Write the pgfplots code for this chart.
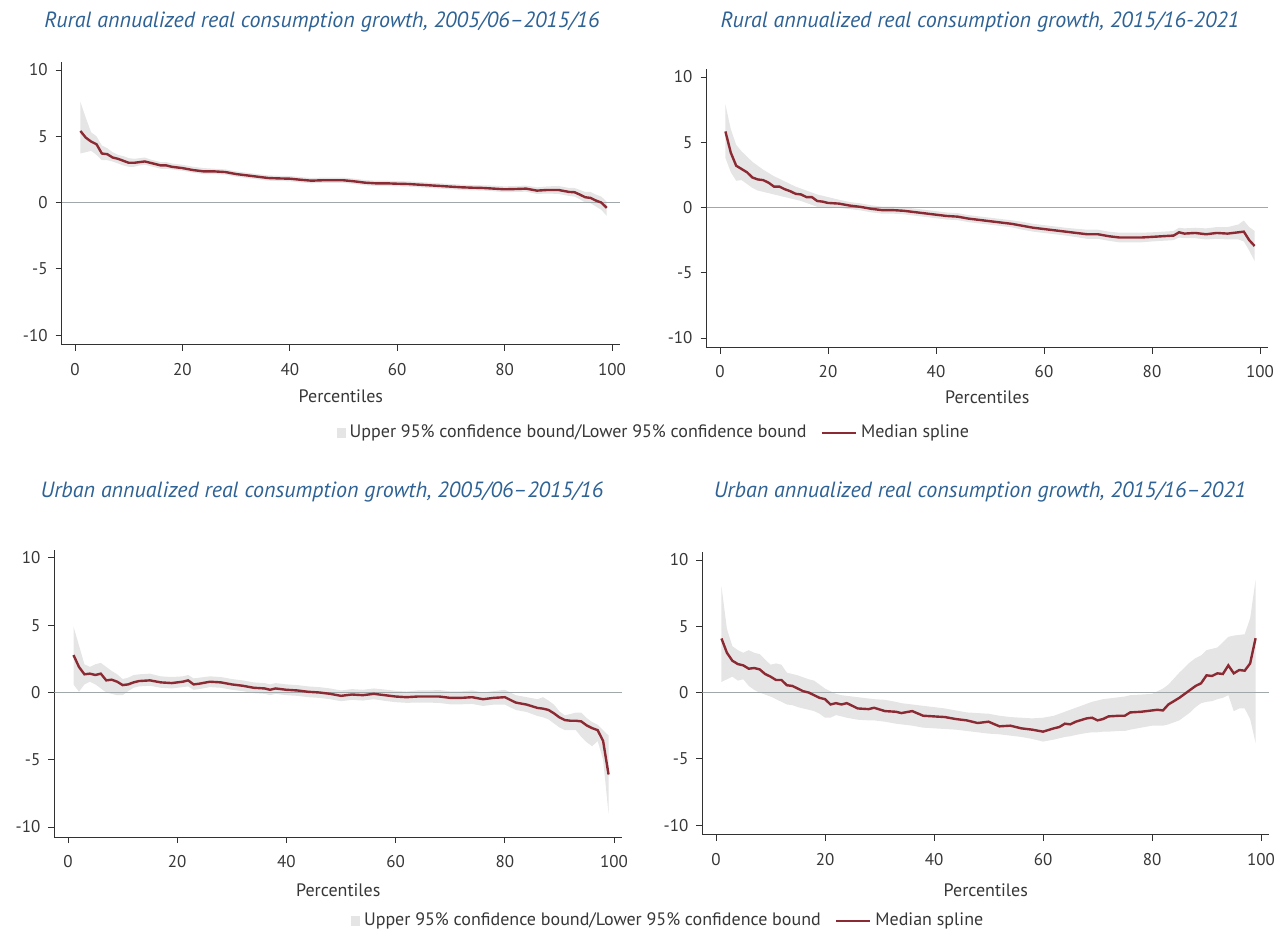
\documentclass[border=0pt]{standalone}
\usepackage{pgfplots}
\pgfplotsset{compat=1.18}
\usepackage{pgfplotstable}
\usepgfplotslibrary{fillbetween}
\usepackage{fontspec}
\setmainfont{PT Sans}
\definecolor{bandgray}{RGB}{229,229,229}
\definecolor{medred}{RGB}{140,42,52}
\definecolor{titleblue}{RGB}{46,98,148}
\definecolor{txtgray}{RGB}{55,55,55}
\definecolor{zerogray}{RGB}{160,168,170}
\definecolor{axgray}{RGB}{50,50,50}

\pgfplotstableread{
x med lo hi
1 5.4 3.7 7.6
2 4.9 3.8 6.4
3 4.6 3.9 5.3
4 4.4 3.6 5.0
5 3.7 3.2 4.3
6 3.65 3.2 4.1
7 3.4 3.1 3.8
8 3.3 2.95 3.6
9 3.15 2.8 3.5
10 3.0 2.7 3.35
11 3.0 2.7 3.3
12 3.05 2.8 3.35
13 3.1 2.85 3.4
14 3.0 2.75 3.25
15 2.9 2.65 3.15
16 2.8 2.55 3.05
17 2.8 2.55 3.05
18 2.7 2.5 2.95
20 2.6 2.4 2.85
22 2.45 2.25 2.7
24 2.35 2.15 2.6
26 2.35 2.15 2.55
28 2.3 2.1 2.5
30 2.15 1.95 2.35
32 2.05 1.85 2.25
34 1.95 1.75 2.15
36 1.85 1.65 2.05
38 1.82 1.62 2.02
40 1.8 1.6 2.0
42 1.72 1.52 1.92
44 1.65 1.45 1.85
46 1.68 1.48 1.88
48 1.68 1.48 1.88
50 1.68 1.48 1.88
52 1.6 1.4 1.8
54 1.5 1.3 1.7
56 1.45 1.25 1.65
58 1.45 1.25 1.65
60 1.42 1.22 1.62
62 1.4 1.2 1.6
64 1.35 1.15 1.55
66 1.3 1.1 1.5
68 1.25 1.05 1.45
70 1.2 1.0 1.4
72 1.15 0.95 1.35
74 1.12 0.92 1.32
76 1.1 0.9 1.3
78 1.05 0.85 1.28
80 1.0 0.78 1.22
82 1.02 0.8 1.25
84 1.05 0.82 1.28
86 0.9 0.65 1.15
88 0.95 0.68 1.22
90 0.95 0.65 1.25
92 0.8 0.5 1.1
93 0.78 0.45 1.1
94 0.6 0.25 0.95
95 0.4 0.0 0.8
96 0.35 -0.05 0.8
97 0.15 -0.3 0.6
98 0.0 -0.55 0.45
99 -0.4 -1.0 0.05
}\tabTL

\pgfplotstableread{
x med lo hi
1 5.83 3.8 7.9
2 4.2 2.7 6.0
3 3.2 2.05 4.8
4 2.95 2.1 4.3
5 2.7 1.8 3.9
6 2.3 1.5 3.5
7 2.15 1.3 3.2
8 2.1 1.2 2.9
9 1.9 1.1 2.65
10 1.6 1.0 2.4
11 1.6 0.9 2.2
12 1.4 0.8 2.0
13 1.25 0.7 1.8
14 1.05 0.6 1.6
15 1.0 0.5 1.45
16 0.8 0.35 1.3
17 0.8 0.2 1.15
18 0.5 0.05 1.0
19 0.45 0.0 0.9
20 0.35 -0.05 0.8
22 0.3 -0.02 0.6
24 0.15 -0.12 0.42
26 0.05 -0.22 0.32
28 -0.1 -0.37 0.17
30 -0.2 -0.47 0.07
32 -0.2 -0.47 0.07
34 -0.25 -0.52 0.02
36 -0.35 -0.62 -0.08
38 -0.45 -0.72 -0.18
40 -0.55 -0.82 -0.28
42 -0.65 -0.92 -0.38
44 -0.7 -0.97 -0.43
46 -0.85 -1.12 -0.58
48 -0.95 -1.22 -0.68
50 -1.05 -1.32 -0.78
52 -1.15 -1.42 -0.88
54 -1.25 -1.52 -0.98
56 -1.4 -1.7 -1.1
58 -1.55 -1.85 -1.25
60 -1.65 -1.95 -1.35
62 -1.75 -2.05 -1.45
64 -1.85 -2.15 -1.55
66 -1.95 -2.27 -1.63
68 -2.05 -2.4 -1.7
70 -2.05 -2.4 -1.7
72 -2.2 -2.55 -1.85
74 -2.3 -2.67 -1.93
76 -2.3 -2.67 -1.93
78 -2.3 -2.67 -1.93
80 -2.25 -2.6 -1.9
82 -2.2 -2.55 -1.85
84 -2.15 -2.5 -1.8
85 -1.9 -2.3 -1.55
86 -2.0 -2.35 -1.6
88 -1.95 -2.35 -1.55
90 -2.05 -2.45 -1.6
92 -1.95 -2.4 -1.5
94 -2.0 -2.45 -1.5
96 -1.9 -2.45 -1.3
97 -1.85 -2.6 -1.0
98 -2.5 -3.3 -1.5
99 -2.95 -4.1 -1.8
}\tabTR

\pgfplotstableread{
x med lo hi
1 2.78 0.6 4.9
2 1.9 0.05 3.5
3 1.35 0.6 2.1
4 1.4 0.8 1.9
5 1.3 0.6 2.1
6 1.4 0.3 2.2
7 0.9 0.0 1.9
8 0.95 -0.1 1.6
9 0.8 -0.2 1.35
10 0.55 -0.2 1.0
11 0.6 0.1 1.1
12 0.75 0.35 1.3
13 0.85 0.45 1.35
15 0.9 0.5 1.4
17 0.75 0.35 1.2
19 0.7 0.3 1.15
21 0.8 0.4 1.2
22 0.9 0.45 1.3
23 0.6 0.2 1.05
24 0.65 0.25 1.1
26 0.8 0.4 1.2
28 0.75 0.35 1.15
30 0.6 0.2 1.0
32 0.5 0.1 0.9
34 0.35 -0.05 0.75
36 0.3 -0.1 0.7
37 0.2 -0.2 0.6
38 0.3 -0.1 0.7
40 0.2 -0.2 0.6
42 0.15 -0.25 0.55
44 0.05 -0.35 0.45
46 0.0 -0.4 0.4
48 -0.1 -0.5 0.3
50 -0.25 -0.65 0.15
52 -0.15 -0.55 0.25
54 -0.2 -0.6 0.2
56 -0.1 -0.5 0.3
58 -0.2 -0.62 0.22
60 -0.3 -0.72 0.12
62 -0.35 -0.77 0.07
64 -0.3 -0.75 0.15
66 -0.3 -0.75 0.15
68 -0.3 -0.78 0.18
70 -0.4 -0.88 0.08
72 -0.4 -0.88 0.08
74 -0.35 -0.85 0.15
76 -0.5 -1.0 0.0
78 -0.4 -0.9 0.1
80 -0.35 -0.9 0.2
81 -0.55 -1.1 0.0
82 -0.75 -1.3 -0.2
84 -0.9 -1.45 -0.35
86 -1.15 -1.75 -0.5
87 -1.2 -1.85 -0.35
88 -1.3 -2.0 -0.6
89 -1.55 -2.3 -0.9
90 -1.85 -2.6 -1.4
91 -2.05 -2.8 -1.7
92 -2.1 -2.8 -1.6
93 -2.1 -2.8 -1.5
94 -2.15 -3.3 -1.5
95 -2.45 -3.7 -1.9
96 -2.65 -4.0 -2.2
97 -2.8 -3.6 -2.4
98 -3.6 -5.0 -2.8
99 -6.1 -9.0 -3.2
}\tabBL

\pgfplotstableread{
x med lo hi
1 4.08 0.8 8.0
2 3.0 1.0 4.8
3 2.4 1.2 3.5
4 2.15 0.9 3.2
5 2.05 1.0 3.0
6 1.8 0.5 3.2
7 1.85 0.2 3.0
8 1.75 0.0 2.9
9 1.4 -0.15 2.5
10 1.2 -0.3 2.1
11 0.95 -0.5 2.2
12 0.95 -0.7 2.1
13 0.55 -0.9 1.5
14 0.5 -0.95 1.4
15 0.3 -1.1 1.3
16 0.1 -1.2 1.15
17 0.0 -1.3 1.0
18 -0.2 -1.4 0.9
19 -0.4 -1.6 0.6
20 -0.5 -1.9 0.3
21 -0.9 -1.9 0.1
22 -0.8 -1.7 -0.1
23 -0.9 -1.8 -0.2
24 -0.8 -1.9 -0.25
26 -1.2 -2.05 -0.35
28 -1.25 -2.1 -0.45
29 -1.15 -2.1 -0.5
31 -1.4 -2.2 -0.55
33 -1.45 -2.35 -0.7
34 -1.55 -2.4 -0.8
36 -1.4 -2.5 -0.9
38 -1.75 -2.65 -1.0
40 -1.8 -2.7 -1.1
42 -1.85 -2.75 -1.2
44 -2.0 -2.8 -1.35
46 -2.1 -2.9 -1.5
48 -2.3 -3.0 -1.55
50 -2.2 -3.1 -1.6
52 -2.55 -3.15 -1.75
54 -2.5 -3.25 -1.85
56 -2.7 -3.35 -1.9
58 -2.8 -3.5 -1.95
60 -2.95 -3.7 -1.9
62 -2.7 -3.55 -1.75
63 -2.6 -3.45 -1.6
64 -2.35 -3.35 -1.45
65 -2.4 -3.3 -1.3
66 -2.2 -3.2 -1.15
68 -1.95 -3.05 -0.85
69 -1.9 -3.0 -0.7
70 -2.1 -3.0 -0.6
71 -2.0 -2.95 -0.5
72 -1.8 -2.95 -0.45
74 -1.75 -2.9 -0.35
75 -1.75 -2.9 -0.3
76 -1.5 -2.8 -0.2
78 -1.45 -2.65 -0.15
80 -1.35 -2.5 -0.1
81 -1.3 -2.5 0.1
82 -1.35 -2.5 0.3
83 -0.9 -2.4 0.6
85 -0.4 -2.1 1.5
87 0.2 -1.5 2.3
88 0.5 -1.1 2.6
89 0.7 -0.8 2.8
90 1.3 -0.7 3.2
91 1.25 -0.65 3.3
92 1.45 -0.5 3.4
93 1.4 -0.4 3.8
94 2.05 -0.2 4.2
95 1.45 -1.4 4.3
96 1.7 -1.2 4.35
97 1.65 -1.2 4.4
98 2.2 -2.0 5.6
99 4.1 -3.8 8.5
}\tabBR

\pgfplotsset{
  panel/.style={
    scale only axis,
    anchor=south west,
    axis x line*=bottom, axis y line*=left,
    axis line style={-, draw=axgray, line width=0.5pt},
    every outer x axis line/.append style={-},
    every outer y axis line/.append style={-},
    xmin=-2.5, xmax=101.5, ymin=-10.75, ymax=10.6,
    xtick={0,20,...,100}, ytick={-10,-5,0,5,10},
    tick align=outside, major tick length=3pt,
    tick style={draw=axgray, line width=0.5pt},
    ticklabel style={font=\fontsize{8.5}{10}\selectfont, text=txtgray},
    xticklabel style={yshift=-2.5pt},
    yticklabel style={xshift=-0.5pt},
    /pgf/number format/assume math mode=true,
    xlabel={Percentiles},
    xlabel style={font=\fontsize{9}{11}\selectfont, text=txtgray},
    legend style={draw=none, fill=none, font=\fontsize{9}{11}\selectfont, text=txtgray,
      /tikz/every even column/.append style={column sep=5pt}},
    legend columns=2,
    legend cell align=left,
  },
  bandlegend/.style={legend image code/.code={\fill[bandgray] (0pt,-2.3pt) rectangle (4.6pt,2.3pt);}},
}

\begin{document}
\begin{tikzpicture}
\path (0,0) rectangle (642.5pt,465pt);

% Top-left
\begin{axis}[panel, at={(30.8pt,292.5pt)}, width=279.25pt, height=141.45pt,
  xlabel style={at={(axis description cs:0.5,-0.18)}, anchor=center},
  legend style={at={(axis description cs:1.062,-0.311)}, anchor=center}]
  \addplot[zerogray, line width=0.6pt, forget plot] coordinates {(-2.5,0) (101.5,0)};
  \addplot[draw=none, name path=hiA, forget plot] table[x=x, y=hi]{\tabTL};
  \addplot[draw=none, name path=loA, forget plot] table[x=x, y=lo]{\tabTL};
  \addplot[fill=bandgray, draw=none, bandlegend] fill between[of=hiA and loA];
  \addlegendentry{Upper 95\% confidence bound/Lower 95\% confidence bound}
  \addplot[medred, line width=1.2pt] table[x=x, y=med]{\tabTL};
  \addlegendentry{Median spline}
\end{axis}

% Top-right
\begin{axis}[panel, at={(353.25pt,291.1pt)}, width=280.8pt, height=139.3pt,
  xlabel style={at={(axis description cs:0.5,-0.177)}, anchor=center}]
  \addplot[zerogray, line width=0.6pt, forget plot] coordinates {(-2.5,0) (101.5,0)};
  \addplot[draw=none, name path=hiB, forget plot] table[x=x, y=hi]{\tabTR};
  \addplot[draw=none, name path=loB, forget plot] table[x=x, y=lo]{\tabTR};
  \addplot[fill=bandgray, draw=none] fill between[of=hiB and loB];
  \addplot[medred, line width=1.2pt] table[x=x, y=med]{\tabTR};
\end{axis}

% Bottom-left
\begin{axis}[panel, at={(27.2pt,46.45pt)}, width=283.9pt, height=143.6pt,
  xlabel style={at={(axis description cs:0.5,-0.184)}, anchor=center},
  legend style={at={(axis description cs:1.0825,-0.292)}, anchor=center}]
  \addplot[zerogray, line width=0.6pt, forget plot] coordinates {(-2.5,0) (101.5,0)};
  \addplot[draw=none, name path=hiC, forget plot] table[x=x, y=hi]{\tabBL};
  \addplot[draw=none, name path=loC, forget plot] table[x=x, y=lo]{\tabBL};
  \addplot[fill=bandgray, draw=none, bandlegend] fill between[of=hiC and loC];
  \addlegendentry{Upper 95\% confidence bound/Lower 95\% confidence bound}
  \addplot[medred, line width=1.2pt] table[x=x, y=med]{\tabBL};
  \addlegendentry{Median spline}
\end{axis}

% Bottom-right
\begin{axis}[panel, at={(351.2pt,47.5pt)}, width=283.4pt, height=141.45pt,
  xlabel style={at={(axis description cs:0.5,-0.194)}, anchor=center}]
  \addplot[zerogray, line width=0.6pt, forget plot] coordinates {(-2.5,0) (101.5,0)};
  \addplot[draw=none, name path=hiD, forget plot] table[x=x, y=hi]{\tabBR};
  \addplot[draw=none, name path=loD, forget plot] table[x=x, y=lo]{\tabBR};
  \addplot[fill=bandgray, draw=none] fill between[of=hiD and loD];
  \addplot[medred, line width=1.2pt] table[x=x, y=med]{\tabBR};
\end{axis}

\begin{scope}[every node/.style={font=\fontsize{11}{13}\selectfont\itshape, text=titleblue}]
\node at (161pt,454pt) {Rural annualized real consumption growth, 2005/06–2015/16};
\node at (490pt,454pt) {Rural annualized real consumption growth, 2015/16-2021};
\node at (161pt,219pt) {Urban annualized real consumption growth, 2005/06–2015/16};
\node at (490pt,219pt) {Urban annualized real consumption growth, 2015/16–2021};
\end{scope}
\end{tikzpicture}
\end{document}
